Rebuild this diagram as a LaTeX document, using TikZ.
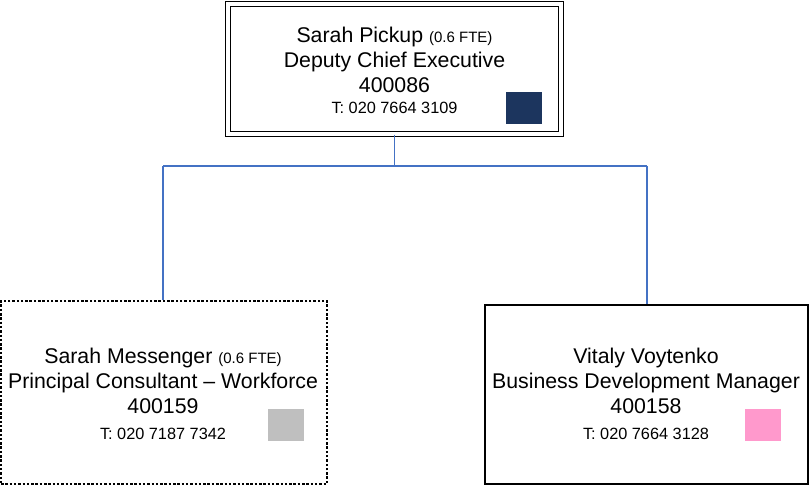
\documentclass[tikz,border=0pt]{standalone}
\usepackage{fontspec}
\setmainfont{Liberation Sans}
\definecolor{navy}{HTML}{1C355E}
\definecolor{lgray}{HTML}{BFBFBF}
\definecolor{pinkc}{HTML}{FF99CC}
\definecolor{linkblue}{HTML}{4472C4}
\tikzset{
  x=1pt,y=-1pt,
  card/.style={draw=black,line width=1.3pt,fill=white,inner sep=0pt},
  info/.style={align=center,font=\fontsize{21.3}{25}\selectfont,inner sep=0pt},
  swatch/.style={draw=none,minimum width=36pt,minimum height=32pt,inner sep=0pt},
  link/.style={draw=linkblue,line width=1.2pt}
}
\newcommand{\sm}[1]{{\fontsize{15}{15}\selectfont #1}}
\newcommand{\phone}[1]{{\fontsize{16.3}{15}\selectfont #1}}
\begin{document}
\begin{tikzpicture}
\useasboundingbox (0,0) rectangle (810,486);
% boxes
\node[card,double,double distance=3.2pt,line width=1.1pt,minimum width=333pt,minimum height=130pt] (top) at (394.5,69) {};
\node[card,dash pattern=on 2.5pt off 1.8pt,minimum width=326pt,minimum height=183pt] (left) at (164,392.5) {};
\node[card,minimum width=323pt,minimum height=179pt] (right) at (646.5,394.5) {};
% connectors
\coordinate (bus) at (394.5,166);
\coordinate (busl) at (163,166);
\coordinate (busr) at (647,166);
\draw[link] (top.south) -- (bus);
\draw[link] (busl) -- (busr);
\draw[link] (busl) -- (busl |- left.north);
\draw[link] (busr) -- (busr |- right.north);
% texts
\node[info] (toptext) at (394.5,70) {Sarah Pickup \sm{(0.6 FTE)}\\Deputy Chief Executive\\400086\\[-4pt]\phone{T: 020 7664 3109}};
\node[info] (lefttext) at (163,394) {Sarah Messenger \sm{(0.6 FTE)}\\Principal Consultant -- Workforce\\400159\\[1pt]\phone{T: 020 7187 7342}};
\node[info] (righttext) at (646,394) {Vitaly Voytenko\\Business Development Manager\\400158\\[1pt]\phone{T: 020 7664 3128}};
% swatches
\node[swatch,fill=navy] (sq1) at (524,108) {};
\node[swatch,fill=lgray] (sq2) at (286,425) {};
\node[swatch,fill=pinkc] (sq3) at (762.5,425) {};
\end{tikzpicture}
\end{document}
